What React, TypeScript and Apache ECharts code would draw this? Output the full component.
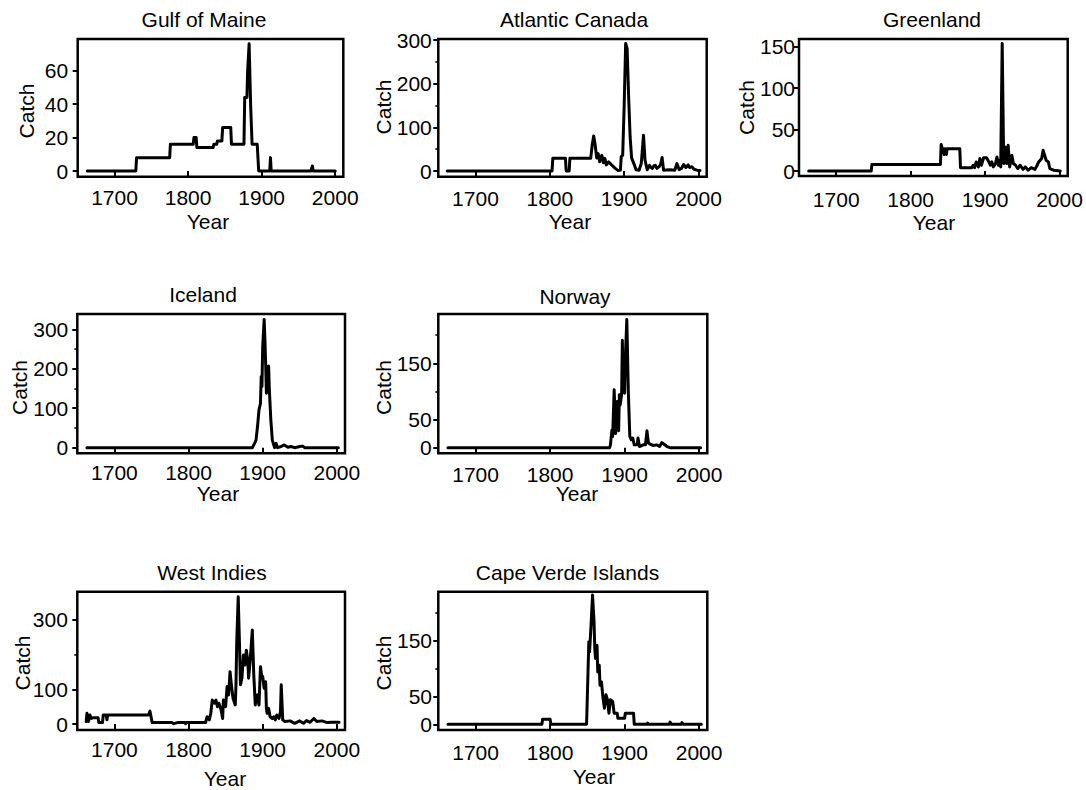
import { useEffect, useRef } from 'react';
import * as echarts from 'echarts';

// ---------------- data (year, catch) ----------------
const gulfOfMaine: number[][] = [
  [1663, 0], [1729, 0], [1730, 8], [1775, 8], [1776, 16], [1807, 16], [1808, 20], [1811, 20], [1812, 14],
  [1834, 14], [1835, 16], [1839, 16], [1840, 18], [1846, 18], [1847, 26], [1858, 26], [1859, 16], [1876, 16],
  [1877, 44], [1880, 44], [1881, 60], [1883, 76], [1885, 40], [1887, 16], [1894, 16], [1896, 0], [1911, 0],
  [1912, 8], [1913, 0], [1967, 0], [1969, 3], [1970, 0], [2000, 0],
];

const atlanticCanada: number[][] = [
  [1662, 0], [1803, 0], [1804, 29], [1821, 29], [1822, 0], [1826, 0], [1827, 29], [1855, 29], [1857, 60],
  [1859, 80], [1861, 60], [1863, 30], [1865, 40], [1867, 21], [1870, 36], [1872, 19], [1874, 29], [1876, 14],
  [1879, 21], [1883, 14], [1888, 6], [1892, 1], [1895, 2], [1896, 33], [1898, 36], [1900, 150], [1902, 292],
  [1904, 280], [1906, 170], [1908, 78], [1910, 30], [1913, 17], [1916, 3], [1920, 2], [1923, 17], [1926, 82],
  [1928, 25], [1931, 3], [1934, 13], [1936, 8], [1938, 6], [1940, 12], [1942, 13], [1944, 6], [1947, 10],
  [1949, 15], [1951, 31], [1953, 2], [1961, 3], [1968, 2], [1971, 17], [1974, 3], [1977, 6], [1980, 15],
  [1983, 8], [1986, 14], [1988, 8], [1991, 10], [1994, 4], [1998, 2], [2002, 1],
];

const greenland: number[][] = [
  [1663, 0], [1747, 0], [1748, 8], [1840, 8], [1841, 32], [1843, 26], [1845, 20], [1846, 27], [1848, 20],
  [1849, 27], [1866, 27], [1867, 4], [1882, 4], [1884, 7], [1886, 4], [1888, 11], [1891, 5], [1893, 15],
  [1895, 7], [1898, 16], [1902, 16], [1905, 11], [1907, 7], [1909, 11], [1911, 5], [1914, 9], [1916, 17],
  [1918, 7], [1920, 13], [1921, 5], [1923, 154], [1925, 9], [1927, 29], [1929, 9], [1931, 31], [1933, 5],
  [1936, 19], [1938, 9], [1941, 7], [1944, 3], [1947, 7], [1951, 2], [1954, 5], [1958, 1], [1962, 4],
  [1967, 2], [1970, 7], [1972, 11], [1976, 15], [1978, 25], [1980, 19], [1982, 13], [1985, 11], [1987, 3],
  [1992, 1], [2001, 0],
];

const iceland: number[][] = [
  [1663, 0], [1886, 0], [1889, 11], [1891, 19], [1893, 53], [1895, 96], [1897, 112], [1898, 180], [1899, 155],
  [1900, 256], [1902, 325], [1903, 273], [1904, 214], [1905, 138], [1907, 205], [1908, 207], [1909, 146],
  [1911, 70], [1913, 19], [1916, 0], [1918, 11], [1920, 0], [1925, 3], [1929, 7], [1934, 1], [1938, 3],
  [1943, 0], [1950, 3], [1954, 4], [1957, 0], [2002, 0],
];

const norway: number[][] = [
  [1663, 0], [1880, 0], [1881, 5], [1883, 31], [1884, 20], [1886, 103], [1888, 25], [1889, 58], [1890, 82],
  [1892, 30], [1893, 94], [1894, 76], [1896, 94], [1897, 191], [1898, 105], [1900, 97], [1901, 159],
  [1903, 228], [1905, 100], [1907, 20], [1909, 14], [1911, 17], [1913, 5], [1917, 5], [1918, 17], [1920, 2],
  [1925, 5], [1928, 5], [1930, 30], [1932, 8], [1935, 6], [1938, 4], [1943, 5], [1947, 2], [1950, 9],
  [1953, 6], [1957, 2], [1961, 0], [2002, 0],
];

const westIndies: number[][] = [
  [1662, 7], [1663, 31], [1665, 7], [1667, 26], [1669, 16], [1671, 18], [1678, 18], [1679, 4], [1684, 4],
  [1685, 26], [1689, 26], [1690, 12], [1691, 26], [1746, 26], [1748, 37], [1751, 4], [1778, 4], [1780, 1],
  [1785, 4], [1795, 4], [1796, 1], [1797, 4], [1823, 4], [1825, 21], [1828, 12], [1830, 31], [1832, 69],
  [1835, 60], [1837, 69], [1839, 50], [1841, 60], [1844, 40], [1846, 16], [1847, 69], [1850, 50], [1852, 108],
  [1854, 84], [1856, 151], [1858, 108], [1860, 74], [1863, 55], [1864, 113], [1865, 237], [1867, 367],
  [1869, 209], [1870, 113], [1872, 132], [1874, 199], [1876, 170], [1878, 213], [1880, 180], [1881, 132],
  [1883, 180], [1886, 271], [1888, 141], [1890, 55], [1891, 69], [1893, 84], [1895, 55], [1897, 165],
  [1899, 132], [1900, 137], [1902, 103], [1904, 122], [1905, 45], [1906, 31], [1908, 45], [1910, 21],
  [1913, 16], [1915, 21], [1917, 12], [1919, 26], [1922, 16], [1924, 36], [1925, 113], [1927, 12], [1930, 7],
  [1937, 9], [1943, 2], [1950, 9], [1955, 2], [1959, 10], [1964, 5], [1969, 16], [1973, 7], [1980, 9],
  [1987, 4], [1993, 5], [2003, 5],
];

const capeVerde: number[][] = [
  [1663, 0], [1789, 0], [1790, 9], [1800, 9], [1801, 0], [1849, 0], [1852, 148], [1853, 130], [1855, 178],
  [1857, 232], [1859, 184], [1860, 136], [1861, 118], [1863, 142], [1864, 94], [1866, 106], [1867, 70],
  [1869, 76], [1871, 47], [1873, 29], [1875, 53], [1877, 44], [1879, 20], [1881, 44], [1884, 41], [1886, 20],
  [1890, 20], [1891, 11], [1900, 11], [1901, 20], [1912, 20], [1913, 0], [1930, 0], [1931, 2], [1932, 0],
  [1960, 0], [1961, 4], [1963, 0], [1976, 0], [1977, 3], [1979, 0], [2003, 0],
];

const xTicks = [1700, 1800, 1900, 2000];
const yLabelsGulf = [0, 20, 40, 60];
const yLabelsHundreds = [0, 100, 200, 300];
const yLabelsGreenland = [0, 50, 100, 150];
const yLabelsFifties = [0, 50, 150];
const yLabelsWestIndies = [0, 100, 300];

// ---------------- layout ----------------
const FONT = '"Liberation Sans", Arial, Helvetica, sans-serif';
const TICK_FONT = 21;
const NAME_FONT = 21;
const TITLE_FONT = 21;

const panels = [
  { title: 'Gulf of Maine', data: gulfOfMaine, box: [77.7, 39, 265.6, 137.7], y: [-3.4, 78.9], labels: yLabelsGulf, minor: [] as number[], ym: 9.5, xm: 10.5, t: [204, 19], yr: [208, 221.5], c: [26.5, 111] },
  { title: 'Atlantic Canada', data: atlanticCanada, box: [438.3, 39, 268.4, 137.7], y: [-13, 302.3], labels: yLabelsHundreds, minor: [50, 150, 250], ym: 6.5, xm: 11.5, t: [574, 19], yr: [570, 221], c: [383, 107] },
  { title: 'Greenland', data: greenland, box: [799, 39, 268.7, 137], y: [-6, 159.3], labels: yLabelsGreenland, minor: [] as number[], ym: 4, xm: 12.5, t: [932, 19], yr: [934, 222], c: [746, 107.5] },
  { title: 'Iceland', data: iceland, box: [77.3, 314, 267.7, 139.3], y: [-14.2, 338.7], labels: yLabelsHundreds, minor: [50, 150, 250], ym: 9, xm: 9, t: [203, 294], yr: [218, 493], c: [19, 387.5] },
  { title: 'Norway', data: norway, box: [438.3, 314, 269, 139.3], y: [-10, 237.6], labels: yLabelsFifties, minor: [100, 200], ym: 6.6, xm: 10.5, t: [575, 296], yr: [577, 493], c: [383, 387.5] },
  { title: 'West Indies', data: westIndies, box: [77.3, 591.7, 267.7, 138.3], y: [-17.3, 381.6], labels: yLabelsWestIndies, minor: [200], ym: 9.4, xm: 8.5, t: [212, 572.5], yr: [225, 778], c: [22.5, 663] },
  { title: 'Cape Verde Islands', data: capeVerde, box: [438.3, 591.7, 269, 138.3], y: [-10.2, 238], labels: yLabelsFifties, minor: [100, 200], ym: 6.3, xm: 11.5, t: [567.5, 572.5], yr: [594, 776], c: [383, 663] },
];

function textEl(text: string, x: number, y: number, size: number, rotate = 0) {
  return {
    type: 'text',
    x,
    y,
    rotation: rotate,
    silent: true,
    style: {
      text,
      fill: '#000',
      font: `${size}px ${FONT}`,
      align: 'center',
      verticalAlign: 'middle',
      textAlign: 'center',
      textVerticalAlign: 'middle',
    },
  };
}

const plain = (v: number) => String(v);

export default function App() {
  const ref = useRef<HTMLDivElement>(null);

  useEffect(() => {
    if (!ref.current) return;
    const chart = echarts.init(ref.current, undefined, { renderer: 'svg' });

    const grid = panels.map((p) => ({
      left: p.box[0],
      top: p.box[1],
      width: p.box[2],
      height: p.box[3],
      show: true,
      borderColor: '#000',
      borderWidth: 2.5,
      backgroundColor: 'transparent',
      containLabel: false,
      outerBoundsMode: 'none',
    }));

    const xAxis = panels.map((p, i) => ({
      type: 'value',
      gridIndex: i,
      min: 1650,
      max: 2011,
      axisLine: { show: false },
      splitLine: { show: false },
      axisTick: { show: true, inside: false, length: 5, lineStyle: { color: '#000', width: 2 }, customValues: xTicks },
      axisLabel: { show: true, customValues: xTicks, formatter: plain, margin: p.xm, fontSize: TICK_FONT, color: '#000', fontFamily: FONT },
    }));

    const yAxisMain = panels.map((p, i) => ({
      type: 'value',
      gridIndex: i,
      position: 'left',
      min: p.y[0],
      max: p.y[1],
      axisLine: { show: false },
      splitLine: { show: false },
      axisTick: { show: true, inside: false, length: 5, lineStyle: { color: '#000', width: 2 }, customValues: p.labels },
      axisLabel: { show: true, customValues: p.labels, formatter: plain, margin: p.ym, fontSize: TICK_FONT, color: '#000', fontFamily: FONT },
    }));

    const yAxisMinor = panels.map((p, i) => ({
      type: 'value',
      gridIndex: i,
      position: 'left',
      offset: 0,
      min: p.y[0],
      max: p.y[1],
      axisLine: { show: false },
      splitLine: { show: false },
      axisLabel: { show: false },
      axisTick: {
        show: p.minor.length > 0,
        inside: false,
        length: 3,
        lineStyle: { color: '#000', width: 1.5 },
        customValues: p.minor.length > 0 ? p.minor : [0],
      },
    }));

    const series = panels.map((p, i) => ({
      type: 'line',
      name: p.title,
      xAxisIndex: i,
      yAxisIndex: i,
      data: p.data,
      showSymbol: false,
      symbol: 'none',
      silent: true,
      clip: true,
      lineStyle: { color: '#000', width: 3, join: 'round', cap: 'round' },
    }));

    const graphic: any[] = [];
    panels.forEach((p) => {
      graphic.push(textEl(p.title, p.t[0], p.t[1], TITLE_FONT));
      graphic.push(textEl('Year', p.yr[0], p.yr[1], NAME_FONT));
      graphic.push(textEl('Catch', p.c[0], p.c[1], NAME_FONT, Math.PI / 2));
    });

    chart.setOption({
      animation: false,
      backgroundColor: '#fff',
      textStyle: { fontFamily: FONT },
      grid,
      xAxis,
      yAxis: [...yAxisMain, ...yAxisMinor],
      series,
      graphic,
    } as any);

    return () => chart.dispose();
  }, []);

  return (
    <div
      ref={ref}
      style={{ position: 'absolute', left: 0, top: 0, width: 1086, height: 790, background: '#fff' }}
    />
  );
}
